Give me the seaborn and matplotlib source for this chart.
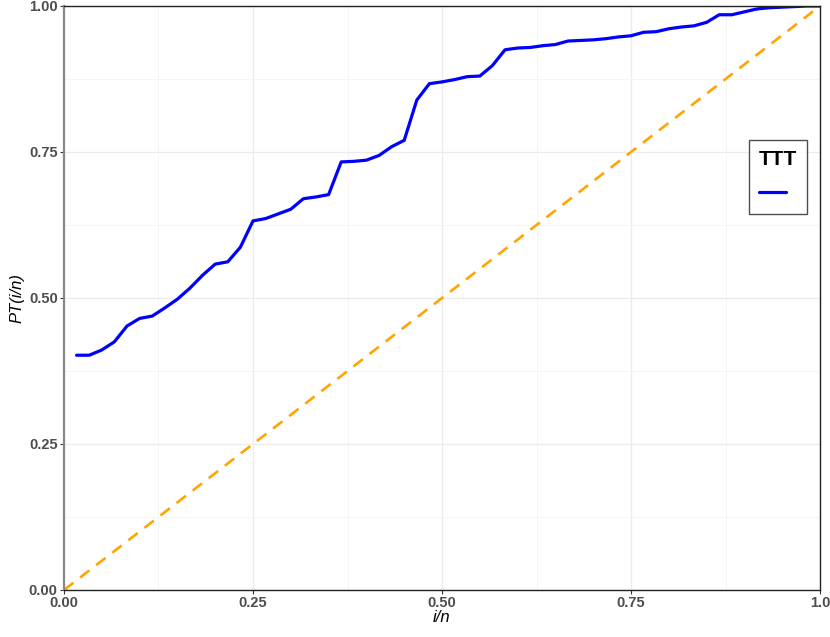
import numpy as np
import pandas as pd
import seaborn as sns
import matplotlib.pyplot as plt
from matplotlib.ticker import MultipleLocator

# TTT plot values, i = 1..60
i_over_n = np.arange(1, 61) / 60
pt = [0.402, 0.402, 0.411, 0.425, 0.452, 0.465, 0.469, 0.483, 0.498, 0.517,
      0.539, 0.558, 0.562, 0.587, 0.632, 0.636, 0.644, 0.652, 0.670, 0.673,
      0.677, 0.733, 0.734, 0.736, 0.744, 0.759, 0.770, 0.839, 0.867, 0.870,
      0.874, 0.879, 0.880, 0.898, 0.925, 0.928, 0.929, 0.932, 0.934, 0.940,
      0.941, 0.942, 0.944, 0.947, 0.949, 0.955, 0.956, 0.961, 0.964, 0.966,
      0.972, 0.985, 0.985, 0.990, 0.995, 0.997, 0.998, 0.999, 1.000, 1.000]
diag = [0, 1]
x_ticks = [0, 0.25, 0.5, 0.75, 1.0]
x_labels = ['0.00', '0.25', '0.50', '0.75', '1.0']
y_labels = ['0.00', '0.25', '0.50', '0.75', '1.00']

df = pd.DataFrame({'x': i_over_n, 'y': pt})

sns.set_style('white')
plt.rcParams['font.family'] = ['Liberation Sans', 'DejaVu Sans']

fig = plt.figure(figsize=(8.3, 6.37), dpi=100)
ax = fig.add_axes([0.0771, 0.0738, 0.9109, 0.9168])

sns.lineplot(data=df, x='x', y='y', ax=ax, color='#0000FF', linewidth=2.3)
ax.plot(diag, diag, color='orange', linewidth=1.9, linestyle=(0, (4.5, 3.2)))

ax.set_xlim(0, 1)
ax.set_ylim(0, 1)
ax.xaxis.set_minor_locator(MultipleLocator(0.125))
ax.yaxis.set_minor_locator(MultipleLocator(0.125))
ax.grid(which='major', color='#EBEBEB', linewidth=0.9)
ax.grid(which='minor', color='#F4F4F4', linewidth=0.6)
ax.set_axisbelow(True)

ax.tick_params(which='major', length=3, width=0.8, color='#333333',
               labelsize=10.5, labelcolor='#4D4D4D', pad=1.5, left=True, bottom=True)
ax.tick_params(which='minor', length=0)
ax.set_xticks(x_ticks)
ax.set_xticklabels(x_labels, fontweight='bold')
ax.set_yticks(x_ticks)
ax.set_yticklabels(y_labels, fontweight='bold')

ax.set_xlabel('i/n', fontsize=12, fontstyle='italic', labelpad=0, color='black')
ax.set_ylabel('PT(i/n)', fontsize=12, fontstyle='italic', labelpad=3, color='black')

for side in ['top', 'right', 'bottom']:
    ax.spines[side].set_color('#222222')
    ax.spines[side].set_linewidth(1.0)
ax.spines['left'].set_color('#888888')
ax.spines['left'].set_linewidth(1.6)

handle = ax.get_lines()[0]
leg = ax.legend(handles=[handle], labels=[''], title='TTT', loc='center',
                bbox_to_anchor=(0.944, 0.707), frameon=True, fancybox=False,
                edgecolor='#222222', handlelength=2.0, handleheight=1.8,
                labelspacing=1.1, borderpad=0.7, handletextpad=0.0,
                title_fontproperties={'size': 15, 'weight': 'bold'})
leg.get_title().set_color('black')
leg.get_frame().set_linewidth(1.0)
leg._legend_box.align = 'left'

fig.savefig('out.png', dpi=100)
